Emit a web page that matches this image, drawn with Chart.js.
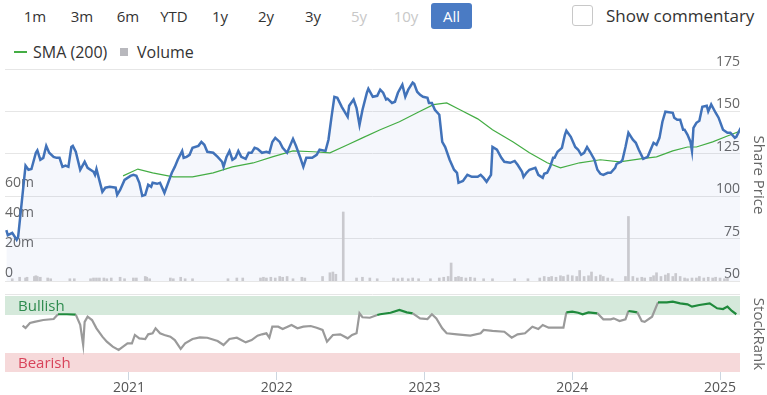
<!DOCTYPE html>
<html lang="en"><head><meta charset="UTF-8">
<title>Share Price</title>
<script src="https://cdn.jsdelivr.net/npm/chart.js@4/dist/chart.umd.min.js"></script>
<style>
*{margin:0;padding:0;box-sizing:border-box}
body{width:767px;height:395px;overflow:hidden;background:#fff;font-family:"Open Sans",sans-serif;color:#333;position:relative}
.btn{position:absolute;top:3px;width:40px;height:26px;line-height:26px;text-align:center;font-size:15px;color:#333}
.btn.off{color:#c8c8c8}
.btn.on{background:#4a7bc4;color:#fff;border-radius:3px;width:41px}
#chk{position:absolute;left:572px;top:5px;width:21px;height:21px;border:1px solid #c8c8c8;border-radius:3px;background:#fff}
#comm{position:absolute;left:606px;top:3px;line-height:26px;font-size:17px;color:#333}
.leg{position:absolute;top:42px;line-height:20px;font-size:16px;color:#333}
#smaLine{position:absolute;left:14px;top:51px;width:13px;height:2px;background:#44ad44}
#volBox{position:absolute;left:120px;top:48px;width:8px;height:8px;background:#b8b8bd}
#w1{position:absolute;left:0;top:50px;width:767px;height:240px}
#w2{position:absolute;left:0;top:290px;width:767px;height:105px}
</style></head><body>
<div class="btn" style="left:15px">1m</div>
<div class="btn" style="left:62px">3m</div>
<div class="btn" style="left:108px">6m</div>
<div class="btn" style="left:154px">YTD</div>
<div class="btn" style="left:200px">1y</div>
<div class="btn" style="left:246px">2y</div>
<div class="btn" style="left:293px">3y</div>
<div class="btn off" style="left:339px">5y</div>
<div class="btn off" style="left:386px">10y</div>
<div class="btn on" style="left:431px">All</div>
<div id="chk"></div>
<div id="comm">Show commentary</div>
<div id="smaLine"></div>
<div class="leg" style="left:33px">SMA (200)</div>
<div id="volBox"></div>
<div class="leg" style="left:137px">Volume</div>
<div id="w1"><canvas id="c1"></canvas></div>
<div id="w2"><canvas id="c2"></canvas></div>
<script>
// price, decimal years
const priceDates = [2020.17,2020.18,2020.21,2020.24,2020.25,2020.30,2020.32,2020.34,2020.37,2020.38,2020.40,2020.42,2020.44,2020.46,2020.49,2020.51,2020.53,2020.55,2020.57,2020.59,2020.61,2020.62,2020.64,2020.67,2020.70,2020.72,2020.76,2020.77,2020.78,2020.82,2020.84,2020.87,2020.91,2020.92,2020.94,2020.97,2021.01,2021.03,2021.05,2021.07,2021.09,2021.11,2021.13,2021.15,2021.16,2021.19,2021.21,2021.24,2021.26,2021.29,2021.31,2021.33,2021.36,2021.37,2021.39,2021.41,2021.43,2021.47,2021.49,2021.51,2021.53,2021.57,2021.60,2021.63,2021.64,2021.66,2021.68,2021.70,2021.72,2021.74,2021.76,2021.79,2021.81,2021.83,2021.85,2021.87,2021.90,2021.93,2021.95,2021.97,2021.99,2022.02,2022.04,2022.07,2022.11,2022.13,2022.16,2022.18,2022.20,2022.24,2022.27,2022.29,2022.33,2022.35,2022.37,2022.39,2022.41,2022.44,2022.48,2022.49,2022.52,2022.54,2022.56,2022.58,2022.61,2022.62,2022.65,2022.68,2022.70,2022.72,2022.74,2022.75,2022.78,2022.80,2022.82,2022.85,2022.87,2022.89,2022.92,2022.93,2022.95,2022.97,2022.99,2023.02,2023.03,2023.05,2023.07,2023.10,2023.12,2023.14,2023.17,2023.20,2023.22,2023.23,2023.26,2023.29,2023.32,2023.36,2023.38,2023.40,2023.42,2023.45,2023.46,2023.49,2023.52,2023.54,2023.58,2023.61,2023.63,2023.66,2023.67,2023.69,2023.71,2023.75,2023.77,2023.80,2023.81,2023.83,2023.85,2023.87,2023.88,2023.90,2023.93,2023.95,2023.96,2023.99,2024.02,2024.04,2024.06,2024.08,2024.10,2024.12,2024.15,2024.17,2024.19,2024.21,2024.24,2024.26,2024.29,2024.30,2024.33,2024.34,2024.36,2024.38,2024.41,2024.43,2024.45,2024.48,2024.51,2024.53,2024.55,2024.57,2024.59,2024.61,2024.63,2024.68,2024.69,2024.71,2024.73,2024.75,2024.76,2024.78,2024.80,2024.81,2024.82,2024.84,2024.86,2024.88,2024.91,2024.92,2024.94,2024.97,2024.99,2025.02,2025.05,2025.07,2025.10,2025.11,2025.14];
const priceValues = [80,77,78.4,74.3,76,118,115.6,116,125.6,127,121.5,122.6,129.7,125.6,123.2,122.6,122.6,117.3,118,117.3,129,129.7,126.2,115.6,120.3,116.7,114.4,112.6,116,102.6,105,105.5,105,100.8,103.7,109.6,112,112.6,112,107.9,100.2,100.8,106.7,105.5,107.9,107.3,107.9,102,106.7,113.8,117.3,121.5,126.7,122.6,123.2,124.4,128.5,129.7,132,130.3,126.2,125.6,123.2,120.3,117.3,123.2,126.7,121.5,122.6,126.7,123.2,122,125.6,125.6,128.5,127.9,125.6,126.2,125.6,132,134.4,132,128.5,125.6,133.8,129.7,122.6,117.3,122.6,122.6,124.4,127.4,126.7,133.3,146.3,158.6,158,152.7,146.8,153.3,157,152,142,150.8,161,163.4,158.6,159.2,162.8,161,157,157.5,155,155.7,161,165.8,158.6,162.8,167,166.3,161.6,159.8,158.6,158,155,155,151,148,132,129,121.5,115.6,113.8,107.9,109,112.6,111.4,111.4,112.6,110.8,108.5,112.6,129,127.4,122.6,120.3,119.7,120.8,118.5,114.4,111.4,113.8,115.6,116.7,112.6,110.8,113.2,113.8,117.3,122.6,122.6,126.2,128.5,136.2,138.6,135,129,127.4,124.4,125.6,129,126.2,121.5,115.6,113.2,112.6,113.8,113.8,116.7,119.1,120.3,121.5,129,137.4,133.3,131.5,127.4,122,123.2,127.4,131.5,130.3,134.4,143.9,149.8,149.2,146.3,145.1,145.1,139.2,139.2,136.2,132,126.7,140.3,143.3,144.5,152.7,153.3,150,154.1,149.2,146.3,139.2,137.4,137.4,134.4,135,140.3];

const smaDates = [2020.96,2021.06,2021.16,2021.30,2021.43,2021.57,2021.70,2021.84,2021.97,2022.11,2022.25,2022.36,2022.48,2022.58,2022.70,2022.83,2022.95,2023.06,2023.15,2023.24,2023.36,2023.46,2023.60,2023.71,2023.83,2023.92,2024.05,2024.19,2024.32,2024.46,2024.57,2024.68,2024.78,2024.84,2024.95,2025.05,2025.14];
const smaValues = [112,116,113.8,111.4,111.4,113.8,117.3,119.6,123.2,126.7,126.2,125.6,130.3,134.4,139.2,143.9,149.2,154,155,151,145.6,139.2,132,125.6,119.7,116.7,119.7,121.5,120.3,122,123.2,126.7,129,129,132,135.5,138.6];

// volume in millions
const volDates = [2020.21,2020.26,2020.30,2020.31,2020.36,2020.37,2020.38,2020.40,2020.45,2020.47,2020.60,2020.63,2020.74,2020.76,2020.78,2020.80,2020.83,2020.85,2020.88,2020.94,2020.97,2021.03,2021.05,2021.11,2021.12,2021.14,2021.28,2021.30,2021.35,2021.38,2021.43,2021.67,2021.73,2021.77,2021.89,2021.91,2021.93,2021.96,2021.99,2022.02,2022.04,2022.07,2022.11,2022.17,2022.19,2022.31,2022.36,2022.38,2022.40,2022.45,2022.54,2022.58,2022.63,2022.68,2022.79,2022.82,2022.85,2022.89,2022.92,2022.96,2023.04,2023.10,2023.13,2023.16,2023.18,2023.21,2023.23,2023.25,2023.28,2023.31,2023.34,2023.40,2023.46,2023.61,2023.70,2023.78,2023.81,2023.84,2023.86,2023.89,2023.92,2023.94,2023.97,2024.00,2024.03,2024.05,2024.08,2024.11,2024.13,2024.16,2024.19,2024.21,2024.24,2024.27,2024.36,2024.38,2024.41,2024.44,2024.47,2024.49,2024.53,2024.55,2024.57,2024.60,2024.63,2024.65,2024.68,2024.70,2024.73,2024.76,2024.78,2024.81,2024.84,2024.86,2024.89,2024.92,2024.95,2024.97,2025.00,2025.03,2025.05];
const volValues = [1.5,2.5,2,2.5,3,3.5,3,2.5,2,1.5,1.5,1.5,1.5,2,2,2,2,1.5,2,2.5,1.5,2,2,3,2.5,1.5,2,1.5,2.5,1.5,1.5,1.5,2,2,2,2.5,2,2.5,2,3,2.5,3,1.5,2.5,2,3,5.5,6,4.5,46,2,2.5,2,1.5,2,1.5,2,1.5,2,1.5,1.5,2,2.5,3,12,2.5,3,2.5,2,2.5,2,1.5,1.5,1.5,1.5,2,3,2.5,3,2.5,3.5,3,4,3.5,3,7,3,3.5,6,3,4,3,2,1.5,3,43,3,2,2.5,2,2.5,3.5,5.5,3,4,5,3,5,3,2,1.5,2,2,3,2,2.5,2,2.5,2,1.5,2];

const rankDates = [2020.28,2020.30,2020.33,2020.36,2020.42,2020.49,2020.52,2020.58,2020.64,2020.67,2020.69,2020.70,2020.72,2020.75,2020.78,2020.82,2020.85,2020.89,2020.93,2020.96,2020.99,2021.02,2021.04,2021.07,2021.11,2021.13,2021.16,2021.18,2021.21,2021.24,2021.28,2021.31,2021.35,2021.38,2021.43,2021.48,2021.53,2021.60,2021.64,2021.68,2021.73,2021.79,2021.83,2021.87,2021.90,2021.93,2021.95,2021.97,2022.01,2022.04,2022.10,2022.14,2022.18,2022.23,2022.27,2022.31,2022.34,2022.38,2022.43,2022.48,2022.51,2022.54,2022.55,2022.56,2022.58,2022.63,2022.68,2022.70,2022.77,2022.83,2022.88,2022.92,2022.97,2023.02,2023.05,2023.08,2023.12,2023.15,2023.22,2023.31,2023.38,2023.40,2023.46,2023.54,2023.59,2023.63,2023.68,2023.73,2023.77,2023.80,2023.84,2023.94,2023.96,2024.00,2024.04,2024.07,2024.11,2024.17,2024.21,2024.26,2024.28,2024.32,2024.36,2024.38,2024.41,2024.44,2024.47,2024.49,2024.54,2024.58,2024.64,2024.68,2024.73,2024.78,2024.81,2024.86,2024.93,2024.98,2025.02,2025.05,2025.08,2025.11];
const rankValues = [61,58,64.5,66,68.4,69.7,76,76,75.5,62,35.5,66,72.8,68.4,57.5,46.5,39.9,33.3,29,33.3,37.7,37.7,48.7,44.3,43.4,49.6,50.9,57.5,50.9,48.7,46.5,42,30.3,37.7,43.4,45.6,45.1,40.8,35.5,43.4,45.1,39,42,47.8,49.6,50.9,45.1,59.6,59.6,56.6,61.8,57.5,59.6,60.5,58.3,55.3,39.9,48.7,49.6,44.3,48.7,50.9,64,77.2,72,71.4,75,76,78,81.6,78.5,77.2,70.6,69.7,76,70.6,57.5,50.9,49.6,47.8,50.9,55.3,54,53,45.1,49.6,50.9,59.6,56.6,61.8,58.3,58.3,78.5,79.4,78,76,78.5,77.2,69.3,69.3,70.6,67,69.3,80.3,79.4,78.5,67,66,72.8,91.7,91.7,92.5,90.4,89,86,88.2,90.4,83.8,82.9,86,80.3,76];

const priceTicks = [50, 75, 100, 125, 150, 175];
const volTicks = [0, 20, 40, 60];
const yearTicks = [2021, 2022, 2023, 2024, 2025];
const bullishBand = [75, 100];
const bearishBand = [0, 25];
const xMin = 2020.161, xMax = 2025.135;

Chart.defaults.font.family = '"Open Sans", sans-serif';
Chart.defaults.animation = false;

const pts = (xs, ys) => xs.map((x, i) => ({ x: x, y: ys[i] }));

new Chart(document.getElementById('c1'), {
  type: 'line',
  data: {
    datasets: [
      { data: pts(priceDates, priceValues), yAxisID: 'y', borderColor: '#4172b9', borderWidth: 2.5, pointRadius: 0, fill: 'start', backgroundColor: 'rgba(60,100,190,0.05)', order: 0 },
      { data: pts(smaDates, smaValues), yAxisID: 'y', borderColor: '#44ad44', borderWidth: 1.2, pointRadius: 0, fill: false, order: 1 },
      { type: 'bar', data: pts(volDates, volValues), yAxisID: 'vol', backgroundColor: '#c9c9ce', barThickness: 2, order: 2 }
    ]
  },
  options: {
    responsive: true, maintainAspectRatio: false, events: [],
    layout: { padding: { top: 19, bottom: 9, left: 0, right: 0 } },
    plugins: { legend: { display: false }, tooltip: { enabled: false }, filler: { drawTime: 'beforeDatasetsDraw' } },
    scales: {
      x: { type: 'linear', min: xMin, max: xMax, offset: false, display: false },
      y: {
        position: 'right', min: 50, max: 175,
        afterBuildTicks: s => { s.ticks = priceTicks.map(v => ({ value: v })); },
        grid: { color: '#e6e6e6', drawTicks: false }, border: { display: false },
        ticks: { mirror: true, padding: 0, labelOffset: -7, color: '#666', font: { size: 14 } },
        title: { display: true, text: 'Share Price', color: '#666', font: { size: 15 }, padding: 0 },
        afterFit: s => { s.width = 27; s.paddingTop = 0; s.paddingBottom = 0; }
      },
      vol: {
        position: 'left', min: 0, max: 141.3,
        afterBuildTicks: s => { s.ticks = volTicks.map(v => ({ value: v })); },
        grid: { display: false }, border: { display: false },
        ticks: { mirror: true, padding: 0, labelOffset: -8, color: '#666', font: { size: 14 }, callback: v => v === 0 ? '0' : v + 'm' },
        afterFit: s => { s.width = 5; s.paddingTop = 0; s.paddingBottom = 0; }
      }
    }
  }
});

const bands = {
  id: 'bands',
  beforeDatasetsDraw(chart) {
    const { ctx, chartArea: a, scales: { rank } } = chart;
    ctx.save();
    const t1 = rank.getPixelForValue(bullishBand[1]), b1 = rank.getPixelForValue(bullishBand[0]);
    const t2 = rank.getPixelForValue(bearishBand[1]), b2 = rank.getPixelForValue(bearishBand[0]);
    ctx.strokeStyle = '#e6e6e6';
    ctx.beginPath(); ctx.moveTo(a.left, t1 - 1.5); ctx.lineTo(a.right, t1 - 1.5); ctx.stroke();
    ctx.fillStyle = '#d5e9db';
    ctx.fillRect(a.left, t1, a.right - a.left, b1 - t1);
    ctx.fillStyle = '#f6d9da';
    ctx.fillRect(a.left, t2, a.right - a.left, b2 - t2);
    ctx.font = '15px "Open Sans", sans-serif';
    ctx.textBaseline = 'middle';
    ctx.fillStyle = '#2e8b4e';
    ctx.fillText('Bullish', a.left + 13, (t1 + b1) / 2 + 1);
    ctx.fillStyle = '#d8435a';
    ctx.fillText('Bearish', a.left + 13, (t2 + b2) / 2 + 1);
    ctx.restore();
  }
};

new Chart(document.getElementById('c2'), {
  type: 'line',
  data: {
    datasets: [{
      data: pts(rankDates, rankValues), yAxisID: 'rank', borderWidth: 2.2, pointRadius: 0, borderColor: '#9a9a9a',
      segment: { borderColor: c => (c.p0.parsed.y >= 75 && c.p1.parsed.y >= 75) ? '#1f8a3c' : '#9a9a9a' }
    }]
  },
  plugins: [bands],
  options: {
    responsive: true, maintainAspectRatio: false, events: [],
    layout: { padding: { top: 6, bottom: 0, left: 5, right: 0 } },
    plugins: { legend: { display: false }, tooltip: { enabled: false } },
    scales: {
      x: {
        type: 'linear', min: xMin, max: xMax,
        afterBuildTicks: s => { s.ticks = yearTicks.map(v => ({ value: v })); },
        grid: { drawOnChartArea: false, drawTicks: true, tickLength: 8, color: '#ccd6e0' }, border: { display: false },
        ticks: { color: '#555', font: { size: 14 }, padding: 0, maxRotation: 0, autoSkip: false, callback: v => String(v) },
        afterFit: s => { s.height = 23; s.paddingLeft = 0; s.paddingRight = 0; }
      },
      rank: {
        position: 'right', min: 0, max: 100,
        afterBuildTicks: s => { s.ticks = [{ value: 0 }]; },
        grid: { display: false }, border: { display: false },
        ticks: { mirror: true, padding: 0, labelOffset: -7, color: '#666', font: { size: 14 } },
        title: { display: true, text: 'StockRank', color: '#666', font: { size: 15 }, padding: 0 },
        afterFit: s => { s.width = 27; s.paddingTop = 0; s.paddingBottom = 0; }
      }
    }
  }
});
</script>
</body></html>
